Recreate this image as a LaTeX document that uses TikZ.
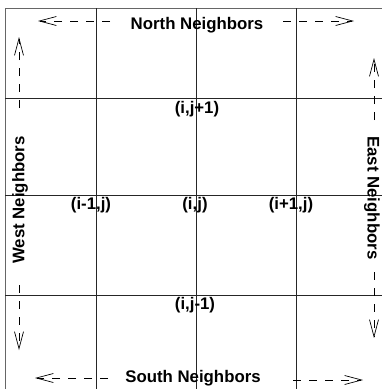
\documentclass[tikz,border=0pt]{standalone}
\usepackage{fontspec}
\setmainfont{Liberation Sans}
\usetikzlibrary{arrows.meta}
\begin{document}
\begin{tikzpicture}[x=1pt,y=-1pt,
  gridline/.style={line width=0.9pt,black!85},
  framebox/.style={line width=1pt,black!60},
  lbl/.style={font=\fontsize{16.8}{18}\selectfont\bfseries,inner sep=0pt},
  nbr/.style={dashed,dash pattern=on 8pt off 8pt,line width=0.7pt,
    -{Straight Barb[length=17pt,width=9pt,line width=0.7pt]}}]
\useasboundingbox (0,0) rectangle (382,389);
% frame
\draw[framebox] (5,389) -- (5,8) -- (382,8);
% grid
\foreach \x in {96,196,296} \draw[gridline] (\x,8) -- (\x,389);
\foreach \y in {98,195,295} \draw[gridline] (5,\y) -- (382,\y);
% cell labels
\node[lbl] (n) at (197,109) {(i,j+1)};
\node[lbl] (c) at (195,205) {(i,j)};
\node[lbl] (w) at (91,205) {(i-1,j)};
\node[lbl] (e) at (291,205) {(i+1,j)};
\node[lbl] (s) at (195,305) {(i,j-1)};
% side titles
\node[lbl] (north) at (197,25) {North Neighbors};
\node[lbl] (south) at (193,378) {South Neighbors};
\node[lbl,rotate=90] (west) at (20,200) {West Neighbors};
\node[lbl,rotate=-90] (east) at (372,198) {East Neighbors};
% arrow coordinates
\coordinate (nl0) at (110,21); \coordinate (nl1) at (38,21);
\coordinate (nr0) at (283,21); \coordinate (nr1) at (354,21);
\coordinate (sl0) at (108,378); \coordinate (sl1) at (35,378);
\coordinate (sr0) at (293,380); \coordinate (sr1) at (363,380);
\coordinate (wu0) at (19,108); \coordinate (wu1) at (19,37);
\coordinate (wd0) at (19,285); \coordinate (wd1) at (19,350);
\coordinate (eu0) at (374,120); \coordinate (eu1) at (374,58);
\coordinate (ed0) at (374,272); \coordinate (ed1) at (374,338);
\foreach \a in {nl,nr,sl,sr,wu,wd,eu,ed} \draw[nbr] (\a0) -- (\a1);
\end{tikzpicture}
\end{document}
